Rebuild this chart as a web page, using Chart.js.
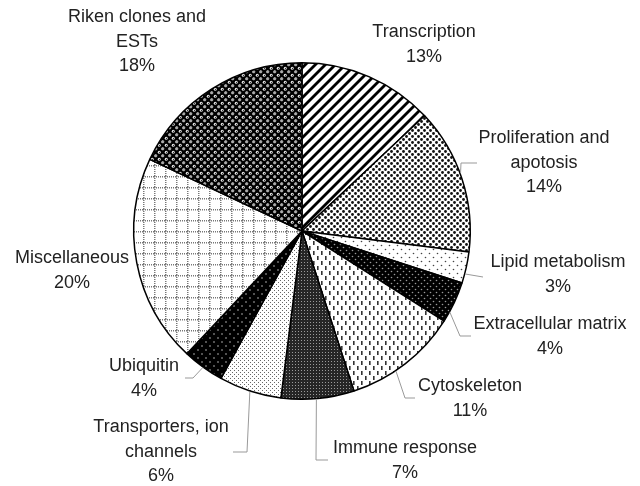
<!DOCTYPE html>
<html>
<head>
<meta charset="utf-8">
<script src="https://cdn.jsdelivr.net/npm/chart.js@4.4.1/dist/chart.umd.min.js"></script>
<style>
  html, body { margin: 0; padding: 0; background: #fff; }
  #wrap { width: 640px; height: 486px; position: relative; }
</style>
</head>
<body>
<div id="wrap"><canvas id="pieChart"></canvas></div>
<script>
// data
const categories = ['Transcription', 'Proliferation and apotosis', 'Lipid metabolism', 'Extracellular matrix',
  'Cytoskeleton', 'Immune response', 'Transporters, ion channels', 'Ubiquitin', 'Miscellaneous', 'Riken clones and ESTs'];
const shares = [13, 14, 3, 4, 11, 7, 6, 4, 20, 18];
const labelLines = [
  ['Transcription'],
  ['Proliferation and', 'apotosis'],
  ['Lipid metabolism'],
  ['Extracellular matrix'],
  ['Cytoskeleton'],
  ['Immune response'],
  ['Transporters, ion', 'channels'],
  ['Ubiquitin'],
  ['Miscellaneous'],
  ['Riken clones and', 'ESTs']
];

// label placement (center x, first baseline) and leader lines
const labelPos = [[424, 37], [544, 143], [558, 267], [550, 329], [470, 391],
  [405, 453], [161, 432], [144, 371], [72, 263], [137, 22]];
const leaderFrac = [null, 0.46, 0.7, 0.75, 0.6, 0.52, 0.5, 0.5, null, null];
const leaderPts = [
  null,
  [[461, 163], [477, 163]],
  [[483, 277]],
  [[460, 336], [471, 336]],
  [[405, 398], [415, 398]],
  [[316, 460], [328, 460]],
  [[247, 452], [233, 452]],
  [[193, 378], [185, 378]],
  null, null
];

function makePattern(w, h, draw) {
  const c = document.createElement('canvas');
  c.width = w; c.height = h;
  const g = c.getContext('2d');
  draw(g, w, h);
  return g.createPattern(c, 'repeat');
}
function dot(g, x, y, r, col) {
  g.fillStyle = col; g.beginPath(); g.arc(x, y, r, 0, Math.PI * 2); g.fill();
}

const fills = [
  // Transcription: diagonal stripes
  makePattern(10, 10, (g, w) => {
    g.fillStyle = '#fff'; g.fillRect(0, 0, w, w);
    g.strokeStyle = '#000'; g.lineWidth = 2.8;
    for (let k = -1; k <= 1; k++) {
      g.beginPath(); g.moveTo(k * w - 3, w + 3); g.lineTo(k * w + w + 3, -3); g.stroke();
    }
  }),
  // Proliferation: dense dots
  makePattern(6, 6, (g, w, h) => {
    g.fillStyle = '#fff'; g.fillRect(0, 0, w, h);
    dot(g, 1.5, 1.5, 1.4, '#111'); dot(g, 4.5, 4.5, 1.4, '#111');
  }),
  // Lipid: sparse dots
  makePattern(8, 8, (g, w, h) => {
    g.fillStyle = '#fff'; g.fillRect(0, 0, w, h);
    dot(g, 1.5, 1.5, 0.8, '#444'); dot(g, 5.5, 5.5, 0.8, '#444');
  }),
  // Extracellular: black with grey dots
  makePattern(6, 6, (g, w, h) => {
    g.fillStyle = '#000'; g.fillRect(0, 0, w, h);
    dot(g, 1.5, 1.5, 0.8, '#999'); dot(g, 4.5, 4.5, 0.8, '#999');
  }),
  // Cytoskeleton: short vertical dashes
  makePattern(8, 10, (g, w, h) => {
    g.fillStyle = '#fff'; g.fillRect(0, 0, w, h);
    g.fillStyle = '#333'; g.fillRect(1, 1, 1.6, 4); g.fillRect(5, 6, 1.6, 4);
  }),
  // Immune: dark fine mesh
  makePattern(3, 3, (g, w, h) => {
    g.fillStyle = '#262626'; g.fillRect(0, 0, w, h);
    g.fillStyle = '#9a9a9a'; g.fillRect(1, 1, 1, 1);
  }),
  // Transporters: fine light dots
  makePattern(4, 4, (g, w, h) => {
    g.fillStyle = '#fff'; g.fillRect(0, 0, w, h);
    g.fillStyle = '#666'; g.fillRect(0, 0, 1, 1); g.fillRect(2, 2, 1, 1);
  }),
  // Ubiquitin: black with white dots
  makePattern(8, 8, (g, w, h) => {
    g.fillStyle = '#000'; g.fillRect(0, 0, w, h);
    dot(g, 2, 2, 0.8, '#bbb'); dot(g, 6, 6, 0.8, '#bbb');
  }),
  // Miscellaneous: dotted grid
  makePattern(11, 11, (g, w, h) => {
    g.fillStyle = '#fff'; g.fillRect(0, 0, w, h);
    g.fillStyle = '#777';
    for (let i = 0; i < w; i += 2) { g.fillRect(i, 0, 1, 1.5); g.fillRect(0, i, 1.5, 1); }
  }),
  // Riken: dark with white rings
  makePattern(7, 7, (g, w, h) => {
    g.fillStyle = '#000'; g.fillRect(0, 0, w, h);
    [[1.75, 1.75], [5.25, 5.25]].forEach(([x, y]) => {
      dot(g, x, y, 1.5, '#eee'); dot(g, x + 0.3, y + 0.3, 0.7, '#333');
    });
  })
];

const labelPlugin = {
  id: 'pieLabels',
  afterDraw(chart) {
    const ctx = chart.ctx;
    const arcs = chart.getDatasetMeta(0).data;
    ctx.save();
    ctx.strokeStyle = '#999';
    ctx.lineWidth = 1;
    arcs.forEach((arc, i) => {
      if (!leaderPts[i]) return;
      const a = arc.startAngle + (arc.endAngle - arc.startAngle) * leaderFrac[i];
      const r = arc.outerRadius + 0.5;
      ctx.beginPath();
      ctx.moveTo(arc.x + Math.cos(a) * r, arc.y + Math.sin(a) * r);
      leaderPts[i].forEach(p => ctx.lineTo(p[0], p[1]));
      ctx.stroke();
    });
    ctx.fillStyle = '#222';
    ctx.font = '18px "Liberation Sans", Arial, sans-serif';
    ctx.textAlign = 'center';
    ctx.textBaseline = 'alphabetic';
    labelLines.forEach((lines, i) => {
      const all = lines.concat([shares[i] + '%']);
      all.forEach((t, j) => ctx.fillText(t, labelPos[i][0], labelPos[i][1] + j * 24.7));
    });
    ctx.restore();
  }
};

new Chart(document.getElementById('pieChart'), {
  type: 'pie',
  data: {
    labels: categories,
    datasets: [{
      data: shares,
      backgroundColor: fills,
      borderColor: '#000',
      borderWidth: 1.5
    }]
  },
  options: {
    responsive: true,
    maintainAspectRatio: false,
    animation: false,
    layout: { padding: { left: 133, right: 169, top: 62, bottom: 86 } },
    plugins: { legend: { display: false }, tooltip: { enabled: false } }
  },
  plugins: [labelPlugin]
});
</script>
</body>
</html>
